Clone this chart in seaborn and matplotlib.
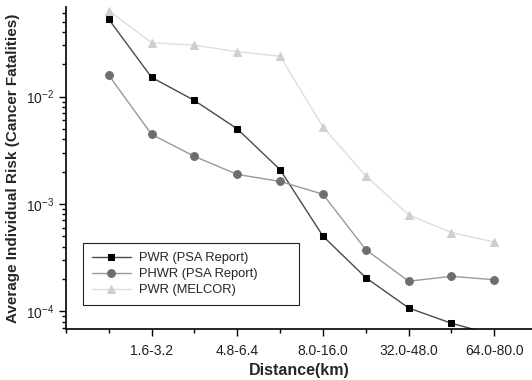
import matplotlib
matplotlib.use("Agg")
import matplotlib.pyplot as plt
import seaborn as sns
import pandas as pd
import numpy as np
from matplotlib.ticker import FixedLocator, LogLocator, NullFormatter

sns.set_theme(style="white")
plt.rcParams['font.family'] = ['Liberation Sans', 'DejaVu Sans']
plt.rcParams['mathtext.fontset'] = 'custom'
plt.rcParams['mathtext.rm'] = 'Liberation Sans'

categories = ["0-1.6", "1.6-3.2", "3.2-4.8", "4.8-6.4", "6.4-8.0",
              "8.0-16.0", "16.0-32.0", "32.0-48.0", "48.0-64.0", "64.0-80.0"]
pwr_psa = [0.0525, 0.0151, 0.0092, 0.0050, 0.00208, 5.0e-4, 2.05e-4, 1.07e-4, 7.7e-5, 6.0e-5]
phwr_psa = [0.0158, 0.00444, 0.00277, 0.00188, 0.00162, 0.00123, 3.74e-4, 1.9e-4, 2.11e-4, 1.96e-4]
pwr_melcor = [0.0631, 0.0318, 0.0302, 0.0262, 0.0238, 0.00521, 0.00182, 7.9e-4, 5.4e-4, 4.4e-4]
labeled_ticks = ["1.6-3.2", "4.8-6.4", "8.0-16.0", "32.0-48.0", "64.0-80.0"]

pos = np.arange(1, len(categories) + 1)
df = pd.DataFrame({
    "pos": np.tile(pos, 3),
    "risk": pwr_psa + phwr_psa + pwr_melcor,
    "series": ["PWR (PSA Report)"] * 10 + ["PHWR (PSA Report)"] * 10 + ["PWR (MELCOR)"] * 10,
})

fig = plt.figure(figsize=(5.32, 3.80), dpi=100)
ax = fig.add_axes([0.124, 0.134, 0.876, 0.848])

styles = {
    "PWR (PSA Report)": dict(color="#4a4a4a", marker="s", mfc="black", mec="black", ms=4.8),
    "PHWR (PSA Report)": dict(color="#999999", marker="o", mfc="#6e6e6e", mec="#6e6e6e", ms=5.6),
    "PWR (MELCOR)": dict(color="#dedede", marker="^", mfc="#cfcfcf", mec="#cfcfcf", ms=6.2),
}
for name, st in styles.items():
    sub = df[df["series"] == name]
    sns.lineplot(data=sub, x="pos", y="risk", ax=ax, color=st["color"], lw=1,
                 marker=st["marker"], markerfacecolor=st["mfc"], markeredgecolor=st["mec"],
                 markersize=st["ms"], label=name, clip_on=True)

ax.set_yscale("log")
ax.set_ylim(6.8e-5, 0.0687)
ax.set_xlim(0, 10.88)

ax.xaxis.set_major_locator(FixedLocator([2, 4, 6, 8, 10]))
ax.set_xticklabels(labeled_ticks)
ax.xaxis.set_minor_locator(FixedLocator([0, 1, 3, 5, 7, 9]))
ax.yaxis.set_major_locator(LogLocator(base=10))
ax.yaxis.set_minor_locator(LogLocator(base=10, subs=np.arange(2, 10)))
ax.yaxis.set_minor_formatter(NullFormatter())

ax.tick_params(axis="both", which="major", direction="out", length=5, width=1,
               color="black", labelsize=10, labelcolor="#222222", bottom=True, left=True)
ax.tick_params(axis="both", which="minor", direction="out", length=3, width=1,
               color="black", bottom=True, left=True)
ax.tick_params(axis="x", which="major", pad=6)

for s in ["top", "right"]:
    ax.spines[s].set_visible(False)
for s in ["left", "bottom"]:
    ax.spines[s].set_color("black")
    ax.spines[s].set_linewidth(1.2)

ax.set_xlabel("Distance(km)", fontsize=11.5, fontweight="bold", labelpad=3)
ax.set_ylabel("Average Individual Risk (Cancer Fatalities)", fontsize=11, fontweight="bold", labelpad=4)

leg = ax.legend(loc="lower left", bbox_to_anchor=(0.0365, 0.0745, 0.4635, 0.19), mode="expand",
                borderaxespad=0, fontsize=9.3, frameon=True, fancybox=False, edgecolor="#222222",
                framealpha=1, handlelength=3.0, borderpad=0.7, labelspacing=0.3, handletextpad=0.6)
leg.get_frame().set_linewidth(0.8)

fig.savefig("out.png", dpi=100)
